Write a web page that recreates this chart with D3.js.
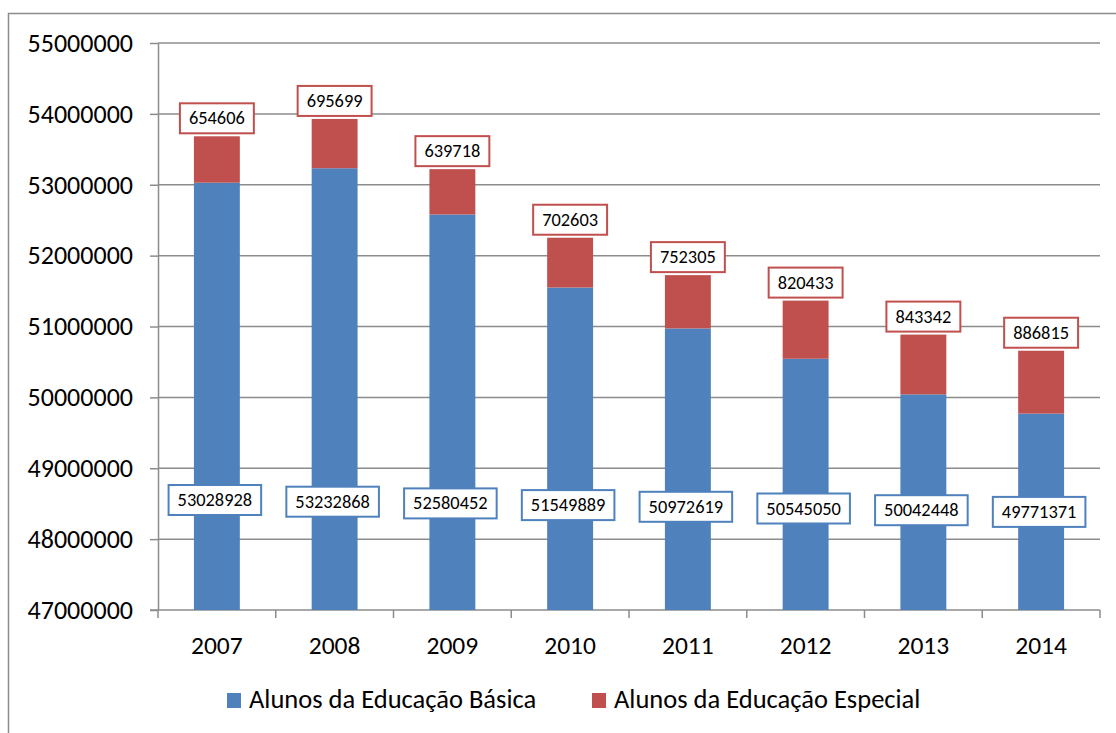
<!DOCTYPE html>
<meta charset="utf-8">
<script src="https://d3js.org/d3.v7.min.js"></script>
<style>
  body { margin: 0; background: #fff; }
  svg { display: block; font-family: Calibri, Carlito, "Liberation Sans", sans-serif; }
</style>
<body>
<script>

// DATA

var years = ["2007", "2008", "2009", "2010", "2011", "2012", "2013", "2014"];
var basica = [53028928, 53232868, 52580452, 51549889, 50972619, 50545050, 50042448, 49771371];
var especial = [654606, 695699, 639718, 702603, 752305, 820433, 843342, 886815];
var yTicks = [47000000, 48000000, 49000000, 50000000, 51000000, 52000000, 53000000, 54000000, 55000000];
var seriesNames = ["Alunos da Educação Básica", "Alunos da Educação Especial"];

var width = 1116;
var height = 733;
var margin = { top: 43, left: 158, right: 16, bottom: 123 };

var blue = "#4F81BD";
var red = "#C0504D";
var grid = "#8c8c8c";

var svg = d3.select("body")
  .append("svg")
  .attr("width", width)
  .attr("height", height);

// outer chart border (cut at right and bottom like the original)
svg.append("path")
  .attr("d", "M8.5," + height + "V13.5H" + width)
  .attr("fill", "none")
  .attr("stroke", grid)
  .attr("stroke-width", 1.5);

// SCALES

var x = d3.scaleBand()
  .domain(years)
  .range([margin.left, width - margin.right])
  .paddingInner(0.61)
  .paddingOuter(0.305);

var y = d3.scaleLinear()
  .domain([47000000, 55000000])
  .range([height - margin.bottom, margin.top]);

var step = x.step();

// GRIDLINES

svg.append("g")
  .selectAll("line")
  .data(yTicks.slice(1))
  .enter().append("line")
    .attr("x1", margin.left)
    .attr("x2", width - margin.right)
    .attr("y1", function (d) { return y(d); })
    .attr("y2", function (d) { return y(d); })
    .attr("stroke", grid)
    .attr("stroke-width", 1.5);

// AXES

var yAxis = svg.append("g")
  .attr("transform", "translate(" + margin.left + ",0)")
  .call(d3.axisLeft(y).tickValues(yTicks).tickFormat(d3.format("d")).tickSize(8).tickSizeOuter(0).tickPadding(17));
yAxis.select(".domain").attr("stroke", grid).attr("stroke-width", 1.5);
yAxis.selectAll(".tick line").attr("stroke", grid).attr("stroke-width", 1.5);
yAxis.selectAll("text")
  .attr("font-size", 26)
  .attr("fill", "#000")
  .style("font-family", "Calibri, Carlito, 'Liberation Sans', sans-serif");

// bottom axis: line plus ticks at category boundaries
var xAxisG = svg.append("g");
xAxisG.append("line")
  .attr("x1", margin.left - 8)
  .attr("x2", width - margin.right)
  .attr("y1", y(47000000))
  .attr("y2", y(47000000))
  .attr("stroke", grid)
  .attr("stroke-width", 1.5);
xAxisG.selectAll(".bt")
  .data(d3.range(years.length + 1))
  .enter().append("line")
    .attr("class", "bt")
    .attr("x1", function (i) { return margin.left + i * step; })
    .attr("x2", function (i) { return margin.left + i * step; })
    .attr("y1", y(47000000))
    .attr("y2", y(47000000) + 8)
    .attr("stroke", grid)
    .attr("stroke-width", 1.5);
xAxisG.selectAll("text")
  .data(years)
  .enter().append("text")
    .attr("x", function (d) { return x(d) + x.bandwidth() / 2; })
    .attr("y", y(47000000) + 44)
    .attr("text-anchor", "middle")
    .attr("font-size", 25.5)
    .text(function (d) { return d; });

// BARS

var bars = svg.append("g");
years.forEach(function (yr, i) {
  var b = basica[i];
  var e = especial[i];
  bars.append("rect")
    .attr("x", x(yr))
    .attr("width", x.bandwidth())
    .attr("y", y(b))
    .attr("height", y(47000000) - y(b))
    .attr("fill", blue);
  bars.append("rect")
    .attr("x", x(yr))
    .attr("width", x.bandwidth())
    .attr("y", y(b + e))
    .attr("height", y(b) - y(b + e))
    .attr("fill", red);
});

// DATA LABELS

function labelBox(g, cx, cy, txt, color) {
  var t = g.append("text")
    .attr("x", cx)
    .attr("y", cy + 6)
    .attr("text-anchor", "middle")
    .attr("font-size", 18.4)
    .text(txt);
  var w = t.node().getComputedTextLength() + 18;
  g.insert("rect", "text")
    .attr("x", cx - w / 2)
    .attr("y", cy - 15)
    .attr("width", w)
    .attr("height", 30)
    .attr("fill", "#fff")
    .attr("stroke", color)
    .attr("stroke-width", 2);
}

years.forEach(function (yr, i) {
  var cx = x(yr) + x.bandwidth() / 2;
  var top = y(basica[i] + especial[i]);
  labelBox(svg.append("g"), cx, top - 18, especial[i], red);
  labelBox(svg.append("g"), cx - 2, 500 + i * 1.7, basica[i], blue);
});

// LEGEND

var legend = svg.append("g");
var legendX = [227, 592];
[blue, red].forEach(function (c, i) {
  legend.append("rect")
    .attr("x", legendX[i])
    .attr("y", 693)
    .attr("width", 14)
    .attr("height", 15)
    .attr("fill", c);
  legend.append("text")
    .attr("x", legendX[i] + 22)
    .attr("y", 708)
    .attr("font-size", 26.5)
    .text(seriesNames[i]);
});

</script>
</body>
